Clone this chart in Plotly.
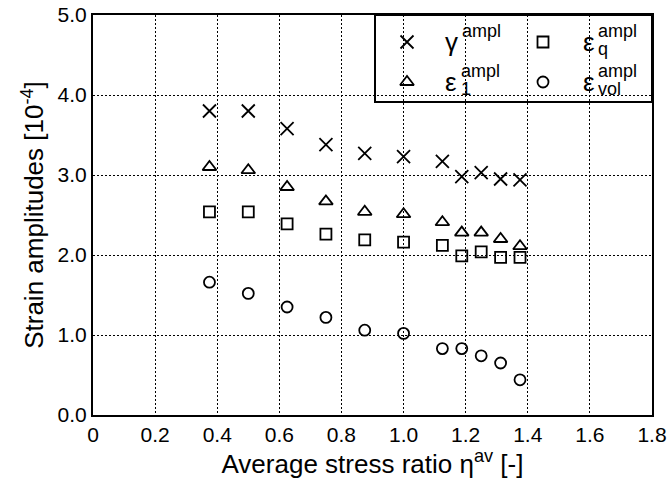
import plotly.graph_objects as go

# Average stress ratio eta^av for each test
eta_av = [0.375, 0.5, 0.625, 0.75, 0.875, 1.0, 1.125, 1.1875, 1.25, 1.3125, 1.375]

# Strain amplitudes [1e-4]
gamma_ampl = [3.80, 3.80, 3.58, 3.38, 3.27, 3.23, 3.17, 2.98, 3.03, 2.95, 2.94]
eps1_ampl = [3.10, 3.06, 2.85, 2.67, 2.54, 2.51, 2.41, 2.28, 2.28, 2.20, 2.11]
epsq_ampl = [2.54, 2.54, 2.39, 2.26, 2.19, 2.16, 2.12, 1.99, 2.04, 1.97, 1.97]
epsvol_ampl = [1.66, 1.52, 1.35, 1.22, 1.06, 1.02, 0.83, 0.83, 0.74, 0.65, 0.44]

x_ticks = [0, 0.2, 0.4, 0.6, 0.8, 1.0, 1.2, 1.4, 1.6, 1.8]
x_tick_labels = ["0", "0.2", "0.4", "0.6", "0.8", "1.0", "1.2", "1.4", "1.6", "1.8"]
y_ticks = [0, 1, 2, 3, 4, 5]
y_tick_labels = ["0.0", "1.0", "2.0", "3.0", "4.0", "5.0"]

FONT = "Liberation Sans, Arial, Helvetica, sans-serif"
BLACK = "black"

# figure geometry (pixels)
W, H = 669, 490
ML, MR, MT, MB = 93, 17, 15, 75
PW, PH = W - ML - MR, H - MT - MB


def fx(px):
    return (px - ML) / PW


def fy(py):
    return (H - MB - py) / PH


series = [
    ("gamma", gamma_ampl, "x-thin-open", 13),
    ("eps_1", eps1_ampl, "triangle-up-open", 12),
    ("eps_q", epsq_ampl, "square-open", 11),
    ("eps_vol", epsvol_ampl, "circle-open", 11),
]

fig = go.Figure()
for name, vals, sym, size in series:
    fig.add_trace(go.Scatter(
        x=eta_av, y=vals, mode="markers", name=name, showlegend=False,
        marker=dict(symbol=sym, size=size, color=BLACK,
                    line=dict(color=BLACK, width=1.8)),
        cliponaxis=False,
    ))

# Legend box (top-right, inside the frame)
LEG_LEFT, LEG_BOTTOM = 375, 102
fig.add_shape(type="rect", xref="paper", yref="paper",
              x0=fx(LEG_LEFT), x1=1, y0=fy(LEG_BOTTOM), y1=1,
              line=dict(color=BLACK, width=2), fillcolor="white", layer="between")

# Legend keys drawn on an overlay axis spanning [0, 1] of the plot area
KEY_COL = [407, 543]
KEY_ROW = [42, 82]
key_layout = [
    ("x-thin-open", 13, KEY_COL[0], KEY_ROW[0]),
    ("square-open", 11, KEY_COL[1], KEY_ROW[0]),
    ("triangle-up-open", 12, KEY_COL[0], KEY_ROW[1]),
    ("circle-open", 11, KEY_COL[1], KEY_ROW[1]),
]
for sym, size, kx, ky in key_layout:
    fig.add_trace(go.Scatter(
        x=[fx(kx)], y=[fy(ky)], xaxis="x2", yaxis="y2", mode="markers",
        showlegend=False, hoverinfo="skip",
        marker=dict(symbol=sym, size=size, color=BLACK,
                    line=dict(color=BLACK, width=1.8)),
    ))

# Legend labels: base symbol with stacked superscript/subscript
BASE_SIZE, SCRIPT_SIZE = 26, 18
labels = [
    # (base, base_x, sup_x, sub, row)
    ("\u03b3", 444, 461, None, 0),
    ("\u03b5", 582, 597, "q", 0),
    ("\u03b5", 444, 460, "1", 1),
    ("\u03b5", 582, 597, "vol", 1),
]
for base, bx, sx, sub, row in labels:
    yc = KEY_ROW[row]
    fig.add_annotation(xref="paper", yref="paper", x=fx(bx), y=fy(yc),
                       xanchor="left", yanchor="middle", showarrow=False,
                       borderpad=0,
                       text=base, font=dict(family=FONT, size=BASE_SIZE, color=BLACK))
    fig.add_annotation(xref="paper", yref="paper", x=fx(sx), y=fy(yc - 11),
                       xanchor="left", yanchor="middle", showarrow=False,
                       borderpad=0,
                       text="ampl", font=dict(family=FONT, size=SCRIPT_SIZE, color=BLACK))
    if sub:
        fig.add_annotation(xref="paper", yref="paper", x=fx(sx), y=fy(yc + 7),
                           xanchor="left", yanchor="middle", showarrow=False,
                           borderpad=0,
                           text=sub, font=dict(family=FONT, size=SCRIPT_SIZE, color=BLACK))

axis_common = dict(
    showline=True, linecolor=BLACK, linewidth=2, mirror=True,
    showgrid=True, gridcolor=BLACK, gridwidth=1, griddash="2px,2px",
    zeroline=False, ticks="",
    tickfont=dict(family=FONT, size=21, color=BLACK),
)

fig.update_layout(
    width=W, height=H,
    margin=dict(l=ML, r=MR, t=MT, b=MB, autoexpand=False),
    paper_bgcolor="white", plot_bgcolor="white",
    font=dict(family=FONT, color=BLACK),
    xaxis=dict(range=[0, 1.8], tickvals=x_ticks, ticktext=x_tick_labels,
               title=dict(text="Average stress ratio \u03b7<sup>av</sup> [-]",
                          font=dict(family=FONT, size=26, color=BLACK), standoff=6),
               **axis_common),
    yaxis=dict(range=[0, 5], tickvals=y_ticks, ticktext=y_tick_labels,
               title=dict(text="Strain amplitudes [10<sup>-4</sup>]",
                          font=dict(family=FONT, size=26, color=BLACK), standoff=6),
               **axis_common),
    xaxis2=dict(overlaying="x", range=[0, 1], visible=False),
    yaxis2=dict(overlaying="y", range=[0, 1], visible=False),
    showlegend=False,
)

fig.write_html("out.html")
